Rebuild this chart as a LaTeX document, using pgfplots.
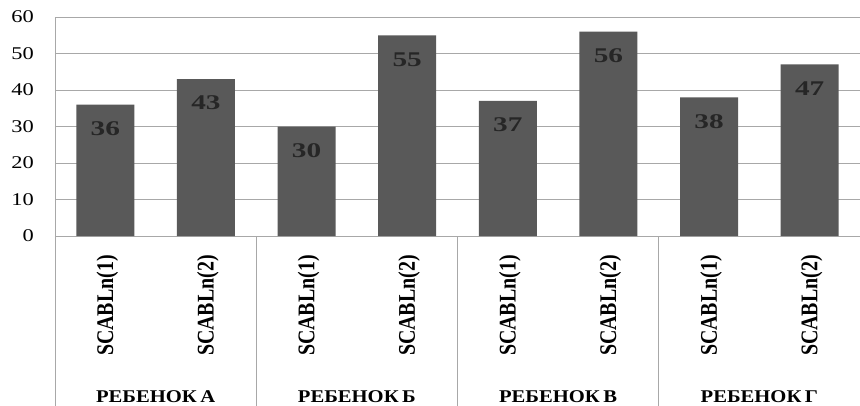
\documentclass[border=0pt]{standalone}
\usepackage{pgfplots}
\pgfplotsset{compat=1.18}
\usepackage{fontspec}
\setmainfont{Liberation Serif}
\definecolor{barfill}{HTML}{595959}
\definecolor{gridc}{HTML}{A8A8A8}
% vertical label, widened across the page once rotated
\newcommand{\vlab}[1]{\scalebox{1}[1.2]{#1}}
% horizontally widened text
\newcommand{\wide}[2]{\scalebox{#1}[1]{#2}}

\begin{document}
\begin{tikzpicture}
\begin{axis}[
  scale only axis,
  width=805bp, height=219bp,
  xmin=-0.5, xmax=7.5,
  ymin=0, ymax=60,
  ytick={0,10,...,60},
  xtick={0,...,7},
  xticklabels={\vlab{SCABLn(1)},\vlab{SCABLn(2)},\vlab{SCABLn(1)},\vlab{SCABLn(2)},
               \vlab{SCABLn(1)},\vlab{SCABLn(2)},\vlab{SCABLn(1)},\vlab{SCABLn(2)}},
  major tick length=0pt,
  axis line style={draw=none},
  ymajorgrids,
  grid style={gridc, line width=0.9bp},
  yticklabel={\wide{1.25}{\pgfmathprintnumber{\tick}}},
  /pgf/number format/assume math mode=true,
  yticklabel style={font=\fontsize{18}{18}\selectfont, anchor=east, inner sep=0pt, xshift=-21bp},
  xticklabel style={font=\bfseries\fontsize{20}{20}\selectfont, inner sep=0pt,
                    yshift=-19bp, xshift=2bp, rotate=90, anchor=east},
  clip=false,
  ybar, bar width=58bp,
  nodes near coords={\wide{1.4}{\pgfmathprintnumber{\pgfplotspointmeta}}},
  every node near coord/.append style={font=\bfseries\fontsize{21}{21}\selectfont,
                    text=black!85, anchor=center, yshift=-24bp},
]
\addplot[draw=none, fill=barfill] coordinates {
  (0,36) (1,43) (2,30) (3,55) (4,37) (5,56) (6,38) (7,47)
};

% group frame and separators
\draw[gridc, line width=0.9bp] (axis cs:-0.5,60) -- ([yshift=-170bp]axis cs:-0.5,0);
\draw[gridc, line width=0.9bp] (axis cs:1.5,0) -- ([yshift=-170bp]axis cs:1.5,0);
\draw[gridc, line width=0.9bp] (axis cs:3.5,0) -- ([yshift=-170bp]axis cs:3.5,0);
\draw[gridc, line width=0.9bp] (axis cs:5.5,0) -- ([yshift=-170bp]axis cs:5.5,0);

% group names
\node[font=\bfseries\fontsize{18}{18}\selectfont, anchor=base, inner sep=0pt]
  at ([yshift=-166bp]axis cs:0.5,0) {\wide{1.15}{РЕБЕНОК\,А}};
\node[font=\bfseries\fontsize{18}{18}\selectfont, anchor=base, inner sep=0pt]
  at ([yshift=-166bp]axis cs:2.5,0) {\wide{1.15}{РЕБЕНОК\,Б}};
\node[font=\bfseries\fontsize{18}{18}\selectfont, anchor=base, inner sep=0pt]
  at ([yshift=-166bp]axis cs:4.5,0) {\wide{1.15}{РЕБЕНОК\,В}};
\node[font=\bfseries\fontsize{18}{18}\selectfont, anchor=base, inner sep=0pt]
  at ([yshift=-166bp]axis cs:6.5,0) {\wide{1.15}{РЕБЕНОК\,Г}};
\end{axis}
\pgfresetboundingbox
\path[use as bounding box] (-55bp,-170bp) rectangle (805bp,236bp);
\end{tikzpicture}
\end{document}
